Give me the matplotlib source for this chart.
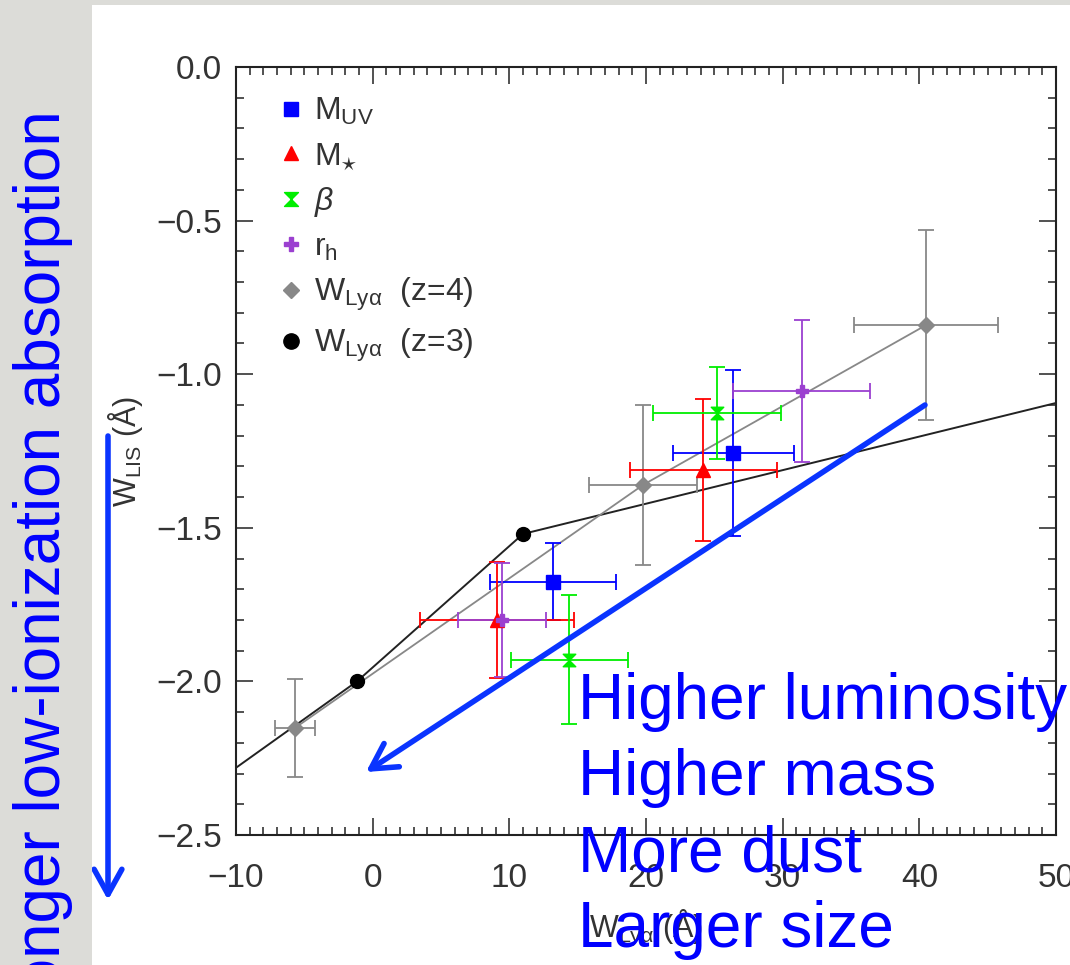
import matplotlib
matplotlib.use("Agg")
import matplotlib.pyplot as plt
from matplotlib.path import Path
from matplotlib.lines import Line2D
from matplotlib.patches import Rectangle

plt.rcParams['font.family'] = ['Liberation Sans', 'DejaVu Sans']
plt.rcParams['mathtext.fontset'] = 'custom'
plt.rcParams['mathtext.rm'] = 'Liberation Sans'
plt.rcParams['mathtext.it'] = 'Liberation Sans:italic'

# --- data ---
muv_x = [13.2, 26.4]
muv_y = [-1.676, -1.257]
muv_xerr = [4.6, 4.45]
muv_yerr = [0.125, 0.27]

mstar_x = [9.1, 24.2]
mstar_y = [-1.80, -1.312]
mstar_xerr = [5.6, 5.4]
mstar_yerr = [0.19, 0.23]

beta_x = [14.4, 25.2]
beta_y = [-1.93, -1.126]
beta_xerr = [4.3, 4.7]
beta_yerr = [0.21, 0.15]

rh_x = [9.46, 31.4]
rh_y = [-1.80, -1.055]
rh_xerr = [3.2, 5.0]
rh_yerr = [0.185, 0.23]

z4_x = [-5.7, 19.8, 40.5]
z4_y = [-2.152, -1.36, -0.84]
z4_xerr = [1.45, 3.95, 5.25]
z4_yerr = [0.16, 0.26, 0.31]

# z=3 stack, outer points fall outside the plotted range
z3_x = [-15.0, -1.15, 11.0, 54.0]
z3_y = [-2.44, -2.0, -1.52, -1.05]

summary_lines = ["Higher luminosity", "Higher mass", "More dust", "Larger size"]

BLUE = '#0000ff'
RED = '#ff0000'
GREEN = '#00ee00'
PURPLE = '#9b40d0'
GRAY = '#888888'
TXT = '#333333'
ANNOT = '#0a34ff'

hourglass = Path([(-1, 1), (1, 1), (-1, -1), (1, -1), (-1, 1)],
                 [Path.MOVETO, Path.LINETO, Path.LINETO, Path.LINETO, Path.CLOSEPOLY])

W, H = 1070, 965
fig = plt.figure(figsize=(W / 100, H / 100), dpi=100)
fig.patch.set_facecolor('white')

# slide background strips
fig.patches.append(Rectangle((0, 0), 92 / W, 1, transform=fig.transFigure,
                             facecolor='#dcdcd8', edgecolor='none', zorder=0))
fig.patches.append(Rectangle((0, 1 - 5 / H), 1, 5 / H, transform=fig.transFigure,
                             facecolor='#dcdcd8', edgecolor='none', zorder=0))

ax = fig.add_axes([236 / W, 130 / H, 820 / W, 768 / H])

# lines
ax.plot(z3_x, z3_y, color='#222222', lw=1.4, zorder=2)
ax.plot(z4_x, z4_y, color=GRAY, lw=1.3, zorder=2)

eb = dict(ls='none', capsize=6, elinewidth=1.3, capthick=1.3, zorder=3)
ax.errorbar(z4_x, z4_y, xerr=z4_xerr, yerr=z4_yerr, fmt='D', color=GRAY, ms=8, **eb)
ax.errorbar(muv_x, muv_y, xerr=muv_xerr, yerr=muv_yerr, fmt='s', color=BLUE, ms=10, **eb)
ax.errorbar(mstar_x, mstar_y, xerr=mstar_xerr, yerr=mstar_yerr, fmt='^', color=RED, ms=10, **eb)
ax.errorbar(beta_x, beta_y, xerr=beta_xerr, yerr=beta_yerr, marker=hourglass, color=GREEN, ms=9, **eb)
ax.errorbar(rh_x, rh_y, xerr=rh_xerr, yerr=rh_yerr, fmt='P', color=PURPLE, ms=9, **eb)
ax.plot(z3_x, z3_y, 'o', color='black', ms=10, ls='none', zorder=4)

ax.set_xlim(-10, 50)
ax.set_ylim(-2.5, 0.0)
ax.set_xticks([-10, 0, 10, 20, 30, 40, 50])
ax.set_yticks([-2.5, -2.0, -1.5, -1.0, -0.5, 0.0])
ax.set_xticks([v for v in range(-10, 51)], minor=True)
ax.set_yticks([-2.5 + 0.1 * i for i in range(26)], minor=True)
ax.tick_params(which='both', direction='in', top=True, right=True, color='#222222', width=1.1)
ax.tick_params(which='major', length=12)
ax.tick_params(which='minor', length=6)
ax.tick_params(axis='x', which='major', pad=20, labelsize=24, labelcolor=TXT)
ax.tick_params(axis='y', which='major', pad=10, labelsize=24, labelcolor=TXT)
for sp in ax.spines.values():
    sp.set_linewidth(1.5)
    sp.set_color('#222222')

ax.set_xlabel(r'W$_{\rm Ly\alpha}$ ($\rm\AA$)', fontsize=22, color=TXT, labelpad=10)
ax.set_ylabel(r'W$_{\rm LIS}$ ($\rm\AA$)', fontsize=22, color=TXT, labelpad=8)

handles = [
    Line2D([], [], ls='none', marker='s', color=BLUE, ms=10),
    Line2D([], [], ls='none', marker='^', color=RED, ms=10),
    Line2D([], [], ls='none', marker=hourglass, color=GREEN, ms=10),
    Line2D([], [], ls='none', marker='P', color=PURPLE, ms=10),
    Line2D([], [], ls='none', marker='D', color=GRAY, ms=8),
    Line2D([], [], ls='none', marker='o', color='black', ms=11),
]
labels = [r'M$_{\rm UV}$', r'M$_{\star}$', r'$\beta$', r'r$_{\rm h}$',
          r'W$_{\rm Ly\alpha}$  (z=4)', r'W$_{\rm Ly\alpha}$  (z=3)']
leg = ax.legend(handles, labels, loc='upper left', bbox_to_anchor=(0.052, 0.962),
                frameon=False, fontsize=23, handlelength=0.8, handletextpad=0.3,
                labelspacing=0.42, borderpad=0, borderaxespad=0)
for t in leg.get_texts():
    t.set_color(TXT)

# slide annotations
fig.text(60 / W, 1 - 110 / H, "Stronger low-ionization absorption", rotation=90,
         rotation_mode='anchor', ha='right', va='baseline', fontsize=46, color=BLUE, zorder=10)

for i, line in enumerate(summary_lines):
    fig.text(578 / W, 1 - (719 + 76 * i) / H, line, ha='left', va='baseline',
             fontsize=46, color=BLUE, zorder=10)

arrow = dict(arrowstyle='->,head_length=0.9,head_width=0.5', lw=4, color=ANNOT,
             mutation_scale=20, shrinkA=0, shrinkB=0)
ax.annotate('', xy=(366, H - 772), xytext=(925, H - 405), xycoords='figure pixels',
            textcoords='figure pixels', arrowprops=arrow, annotation_clip=False, zorder=10)
ax.annotate('', xy=(108, H - 900), xytext=(108, H - 436), xycoords='figure pixels',
            textcoords='figure pixels', arrowprops=arrow, annotation_clip=False, zorder=10)

fig.savefig('out.png', dpi=100)
